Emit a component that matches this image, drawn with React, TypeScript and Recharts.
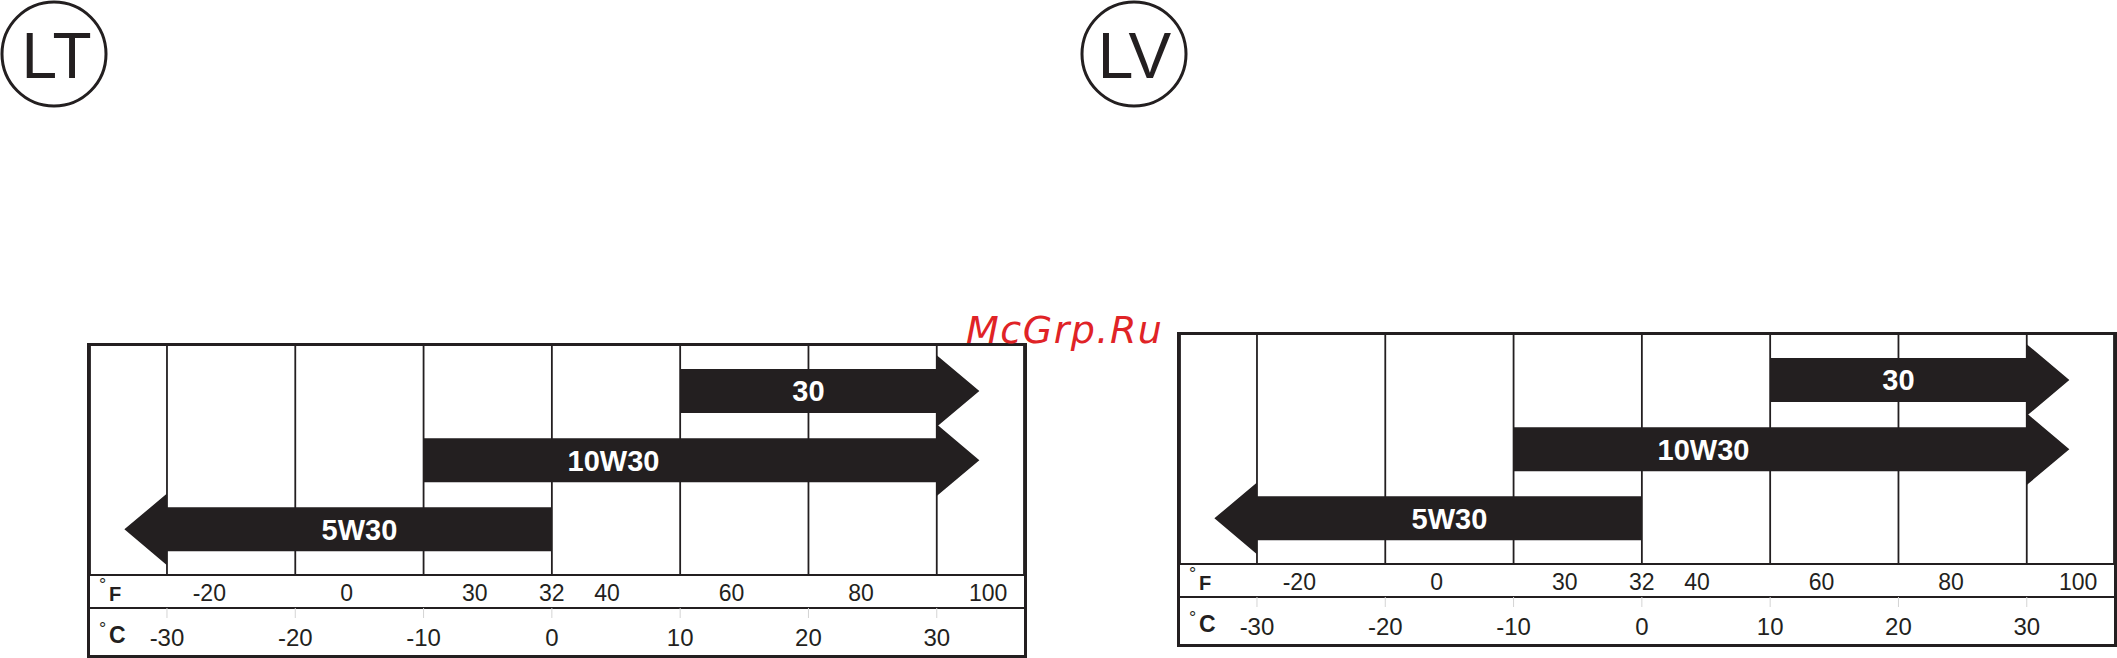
import React from 'react';
import { BarChart, Bar, XAxis, YAxis, CartesianGrid } from 'recharts';

// oil grades, top row first
const grades = ['30', '10W30', '5W30'];
const lowC = [10, -10, -30];
const highC = [30, 30, 0];
const openEnd = ['right', 'right', 'left'];
const labelAtC = [20, 4.8, -15];

const celsiusTicks = [-30, -20, -10, 0, 10, 20, 30];
const fahrenheitLabels = [-20, 0, 30, 32, 40, 60, 80, 100];
// where each °F label sits along the °C scale of the printed chart
const fahrenheitLabelAtC = [-26.7, -16, -6, 0, 4.3, 14, 24.1, 34];

const INK = '#231f20';
const FONT = '"Liberation Sans", Arial, Helvetica, sans-serif';

const data = grades.map((g, i) => ({
    grade: g,
    range: [lowC[i], highC[i]],
    low: lowC[i],
    high: highC[i],
    dir: openEnd[i],
    labelAt: labelAtC[i],
}));

const ArrowBar = (props: any) => {
    const { x, y, width, height, payload } = props;
    const headLen = 42.6;
    const headHalf = 35.8;
    const cy = y + height / 2;
    const top = y;
    const bot = y + height;
    const left = x;
    const right = x + width;
    let points;
    if (payload.dir === 'right') {
        points = [
            [left, top], [right, top], [right, cy - headHalf], [right + headLen, cy],
            [right, cy + headHalf], [right, bot], [left, bot],
        ];
    } else {
        points = [
            [right, top], [left, top], [left, cy - headHalf], [left - headLen, cy],
            [left, cy + headHalf], [left, bot], [right, bot],
        ];
    }
    const pxPerUnit = width / (payload.high - payload.low);
    const lx = left + (payload.labelAt - payload.low) * pxPerUnit;
    return (
        <g>
            <polygon points={points.map((p) => p.join(',')).join(' ')} fill={INK} />
            <text
                x={lx}
                y={cy + 10.4}
                textAnchor="middle"
                fill="#fff"
                fontFamily={FONT}
                fontWeight="bold"
                fontSize={29}
            >
                {payload.grade}
            </text>
        </g>
    );
};

const FTick = ({ x, y, index }: any) => (
    <text x={x} y={y + 25.6} textAnchor="middle" fill={INK} fontFamily={FONT} fontSize={23}>
        {fahrenheitLabels[index]}
    </text>
);

const CTick = ({ x, y, payload }: any) => (
    <text x={x} y={y + 28} textAnchor="middle" fill={INK} fontFamily={FONT} fontSize={24}>
        {payload.value}
    </text>
);

function OilChart({ left, top }: { left: number; top: number }) {
    return (
        <div
            style={{
                position: 'absolute',
                left,
                top,
                width: 934,
                height: 309,
                border: `3px solid ${INK}`,
            }}
        >
            <BarChart
                width={934}
                height={309}
                data={data}
                layout="vertical"
                margin={{ top: 0, right: 0, bottom: 0, left: 0 }}
                barSize={44}
            >
                <CartesianGrid
                    xAxisId="b"
                    horizontal={false}
                    stroke={INK}
                    strokeWidth={1.8}
                    strokeOpacity={1}
                />
                <YAxis type="category" dataKey="grade" hide padding={{ top: 10, bottom: 11.5 }} />
                {/* °C row (outer) */}
                <XAxis
                    xAxisId="b"
                    type="number"
                    domain={[-36, 36.8]}
                    ticks={celsiusTicks}
                    interval={0}
                    height={47}
                    tickSize={10}
                    tickMargin={0}
                    tickLine={{ stroke: '#d4d4d4', strokeWidth: 1 }}
                    axisLine={{ stroke: INK, strokeWidth: 2 }}
                    tick={<CTick />}
                    allowDataOverflow
                />
                {/* °F row (next to the plot) */}
                <XAxis
                    xAxisId="a"
                    type="number"
                    domain={[-36, 36.8]}
                    ticks={fahrenheitLabelAtC}
                    interval={0}
                    height={33}
                    tickSize={0}
                    tickMargin={0}
                    tickLine={false}
                    axisLine={{ stroke: INK, strokeWidth: 2 }}
                    tick={<FTick />}
                    allowDataOverflow
                />
                <Bar xAxisId="b" dataKey="range" shape={<ArrowBar />} isAnimationActive={false} />
            </BarChart>
            <svg
                width={934}
                height={309}
                style={{ position: 'absolute', left: 0, top: 0, pointerEvents: 'none' }}
            >
                <text x={9} y={245} fill={INK} fontFamily={FONT} fontSize={18}>°</text>
                <text x={19} y={254.7} fill={INK} fontFamily={FONT} fontWeight="bold" fontSize={20}>F</text>
                <text x={9} y={289} fill={INK} fontFamily={FONT} fontSize={18}>°</text>
                <text x={19} y={297.3} fill={INK} fontFamily={FONT} fontWeight="bold" fontSize={23}>C</text>
            </svg>
        </div>
    );
}

export default function App() {
    return (
        <div
            style={{
                position: 'absolute',
                left: 0,
                top: 0,
                width: 2117,
                height: 658,
                background: '#fff',
                overflow: 'hidden',
            }}
        >
            <svg width={2117} height={120} style={{ position: 'absolute', left: 0, top: 0 }}>
                <circle cx={54} cy={54} r={52} fill="none" stroke={INK} strokeWidth={3} />
                <text x={56.5} y={78} textAnchor="middle" fill={INK} fontFamily={FONT} fontSize={64}>LT</text>
                <circle cx={1134} cy={54} r={52} fill="none" stroke={INK} strokeWidth={3} />
                <text x={1134.5} y={78} textAnchor="middle" fill={INK} fontFamily={FONT} fontSize={64}>LV</text>
            </svg>
            <OilChart left={87} top={343} />
            <OilChart left={1177} top={332} />
            <div
                style={{
                    position: 'absolute',
                    left: 966,
                    top: 307,
                    fontFamily: '"DejaVu Sans", sans-serif',
                    fontStyle: 'italic',
                    fontSize: 38,
                    color: '#e02326',
                    lineHeight: '46px',
                    letterSpacing: 1.5,
                }}
            >
                McGrp.Ru
            </div>
        </div>
    );
}
